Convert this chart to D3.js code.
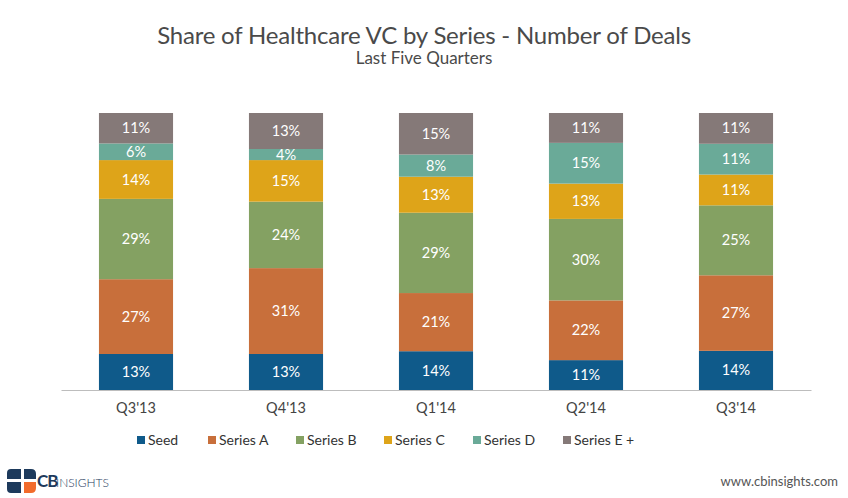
<!DOCTYPE html>
<meta charset="utf-8">
<html>
<head>
  <title>Share of Healthcare VC by Series</title>
  <style>
    body { margin: 0; background: #fff; }
    text { font-family: Lato, "Open Sans", sans-serif; }
  </style>
</head>
<body>
  <script src="https://d3js.org/d3.v7.js"></script>
  <div id="chart"></div>
  <script>
    // quarters on the x axis
    var quarters = ["Q3'13", "Q4'13", "Q1'14", "Q2'14", "Q3'14"];
    var seriesNames = ["Seed", "Series A", "Series B", "Series C", "Series D", "Series E +"];
    var colors = ["#0f5a8a", "#c86f3b", "#84a162", "#dea419", "#6aaa98", "#857978"];

    // percent of deals per series, one array per quarter order
    var seed    = [13, 13, 14, 11, 14];
    var seriesA = [27, 31, 21, 22, 27];
    var seriesB = [29, 24, 29, 30, 25];
    var seriesC = [14, 15, 13, 13, 11];
    var seriesD = [6, 4, 8, 15, 11];
    var seriesE = [11, 13, 15, 11, 11];

    var values = [seed, seriesA, seriesB, seriesC, seriesD, seriesE];

    var table = quarters.map(function (q, i) {
      var row = { q: q };
      seriesNames.forEach(function (s, j) { row[s] = values[j][i]; });
      return row;
    });

    var W = 848, H = 498;
    var svg = d3.select("#chart").append("svg")
      .attr("width", W).attr("height", H);

    // titles
    svg.append("text")
      .attr("x", 424).attr("y", 44)
      .attr("text-anchor", "middle")
      .attr("fill", "#4a4a4a")
      .style("font-size", "24px")
      .style("letter-spacing", "-0.2px")
      .text("Share of Healthcare VC by Series - Number of Deals");
    svg.append("text")
      .attr("x", 424).attr("y", 64)
      .attr("text-anchor", "middle")
      .attr("fill", "#4a4a4a")
      .style("font-size", "17px")
      .text("Last Five Quarters");

    var x = d3.scaleBand()
      .domain(quarters)
      .range([61, 811])
      .paddingInner(0.506)
      .paddingOuter(0.253);

    var y = d3.scaleLinear()
      .domain([0, 1])
      .range([390, 113]);

    var stack = d3.stack()
      .keys(seriesNames)
      .offset(d3.stackOffsetExpand);
    var layers = stack(table);

    var g = svg.selectAll("g.layer")
      .data(layers)
      .enter().append("g")
      .attr("class", "layer")
      .attr("fill", function (d, i) { return colors[i]; });

    g.selectAll("rect")
      .data(function (d) { return d; })
      .enter().append("rect")
      .attr("x", function (d) { return x(d.data.q); })
      .attr("y", function (d) { return y(d[1]); })
      .attr("width", x.bandwidth())
      .attr("height", function (d) { return y(d[0]) - y(d[1]); });

    // value labels
    layers.forEach(function (layer) {
      svg.selectAll(null)
        .data(layer)
        .enter().append("text")
        .attr("x", function (d) { return x(d.data.q) + x.bandwidth() / 2; })
        .attr("y", function (d) { return (y(d[0]) + y(d[1])) / 2; })
        .attr("dy", "0.35em")
        .attr("text-anchor", "middle")
        .attr("fill", "#fff")
        .style("font-size", "14.5px")
        .text(function (d) { return d.data[layer.key] + "%"; });
    });

    // x axis
    var xAxis = svg.append("g")
      .attr("transform", "translate(0,390)")
      .call(d3.axisBottom(x).tickSize(0).tickPadding(13));
    xAxis.select(".domain").attr("stroke", "#bdbdbd");
    xAxis.selectAll("text")
      .attr("fill", "#444")
      .style("font-size", "14.5px")
      .style("font-family", "Lato, sans-serif");

    // legend
    var legendX = [137, 208, 296, 384, 473, 563];
    var legend = svg.selectAll("g.legend")
      .data(seriesNames)
      .enter().append("g")
      .attr("class", "legend")
      .attr("transform", function (d, i) { return "translate(" + legendX[i] + ",440)"; });
    legend.append("rect")
      .attr("x", 0).attr("y", -4)
      .attr("width", 8).attr("height", 8)
      .attr("fill", function (d, i) { return colors[i]; });
    legend.append("text")
      .attr("x", 11).attr("dy", "0.35em")
      .attr("fill", "#333")
      .style("font-size", "14px")
      .text(function (d) { return d; });

    // logo
    var logo = svg.append("g").attr("transform", "translate(7,469)");
    logo.append("path")
      .attr("d", "M4,0 H14 V10 H0 V4 Q0,0 4,0 Z M0,13 H14 V24 H4 Q0,24 0,20 Z")
      .attr("fill", "#1d3a5c");
    logo.append("path")
      .attr("d", "M17,0 H24 Q29,0 29,5 V10 H17 Z")
      .attr("fill", "#1d3a5c");
    logo.append("path")
      .attr("d", "M17,13 H29 V19 Q29,24 24,24 H17 Z")
      .attr("fill", "#f26b2b");
    svg.append("text")
      .attr("x", 37).attr("y", 487)
      .attr("fill", "#1d3a5c")
      .style("font-size", "17px")
      .style("font-weight", "bold")
      .style("letter-spacing", "-1px")
      .text("CB");
    svg.append("text")
      .attr("x", 56).attr("y", 487)
      .attr("fill", "#1d3a5c")
      .style("font-size", "12px")
      .style("font-weight", "300")
      .text("INSIGHTS");

    svg.append("text")
      .attr("x", 838).attr("y", 486)
      .attr("text-anchor", "end")
      .attr("fill", "#555")
      .style("font-size", "13px")
      .text("www.cbinsights.com");
  </script>
</body>
</html>
